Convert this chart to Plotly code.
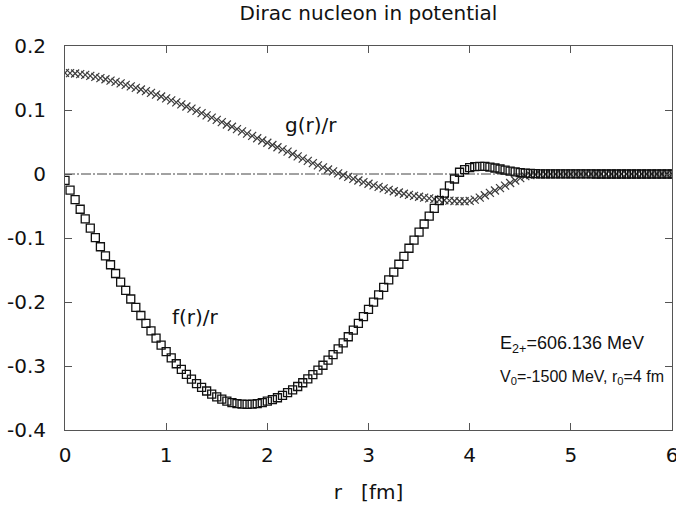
import plotly.graph_objects as go

# radius grid [fm]
R_FM = [
    0.00, 0.05, 0.10, 0.15, 0.20, 0.25, 0.30, 0.35, 0.40, 0.45,
    0.50, 0.55, 0.60, 0.65, 0.70, 0.75, 0.80, 0.85, 0.90, 0.95,
    1.00, 1.05, 1.10, 1.15, 1.20, 1.25, 1.30, 1.35, 1.40, 1.45,
    1.50, 1.55, 1.60, 1.65, 1.70, 1.75, 1.80, 1.85, 1.90, 1.95,
    2.00, 2.05, 2.10, 2.15, 2.20, 2.25, 2.30, 2.35, 2.40, 2.45,
    2.50, 2.55, 2.60, 2.65, 2.70, 2.75, 2.80, 2.85, 2.90, 2.95,
    3.00, 3.05, 3.10, 3.15, 3.20, 3.25, 3.30, 3.35, 3.40, 3.45,
    3.50, 3.55, 3.60, 3.65, 3.70, 3.75, 3.80, 3.85, 3.90, 3.95,
    4.00, 4.05, 4.10, 4.15, 4.20, 4.25, 4.30, 4.35, 4.40, 4.45,
    4.50, 4.55, 4.60, 4.65, 4.70, 4.75, 4.80, 4.85, 4.90, 4.95,
    5.00, 5.05, 5.10, 5.15, 5.20, 5.25, 5.30, 5.35, 5.40, 5.45,
    5.50, 5.55, 5.60, 5.65, 5.70, 5.75, 5.80, 5.85, 5.90, 5.95,
    6.00,
]

# upper component g(r)/r
G_OVER_R = [
    0.1580, 0.1576, 0.1570, 0.1560, 0.1548, 0.1533, 0.1518, 0.1499, 0.1480, 0.1460,
    0.1439, 0.1417, 0.1393, 0.1370, 0.1345, 0.1320, 0.1294, 0.1268, 0.1240, 0.1211,
    0.1181, 0.1151, 0.1119, 0.1087, 0.1054, 0.1021, 0.0987, 0.0952, 0.0917, 0.0881,
    0.0846, 0.0810, 0.0774, 0.0738, 0.0702, 0.0667, 0.0631, 0.0595, 0.0559, 0.0524,
    0.0488, 0.0453, 0.0418, 0.0384, 0.0350, 0.0313, 0.0276, 0.0240, 0.0205, 0.0170,
    0.0136, 0.0103, 0.0071, 0.0040, 0.0010, -0.0019, -0.0046, -0.0075, -0.0102, -0.0128,
    -0.0153, -0.0178, -0.0202, -0.0225, -0.0249, -0.0270, -0.0289, -0.0308, -0.0325, -0.0341,
    -0.0356, -0.0370, -0.0382, -0.0393, -0.0402, -0.0410, -0.0417, -0.0422, -0.0426, -0.0426,
    -0.0420, -0.0400, -0.0368, -0.0332, -0.0295, -0.0258, -0.0220, -0.0181, -0.0141, -0.0101,
    -0.0064, -0.0034, -0.0017, -0.0010, -0.0006, -0.0004, -0.0003, -0.0002, -0.0002, -0.0001,
    -0.0001, -0.0001, -0.0001, 0.0, 0.0, 0.0, 0.0, 0.0, 0.0, 0.0,
    0.0, 0.0, 0.0, 0.0, 0.0, 0.0, 0.0, 0.0, 0.0, 0.0,
    0.0,
]

# lower component f(r)/r
F_OVER_R = [
    -0.0100, -0.0251, -0.0401, -0.0551, -0.0700, -0.0847, -0.0993, -0.1137, -0.1278, -0.1418,
    -0.1555, -0.1688, -0.1818, -0.1953, -0.2084, -0.2211, -0.2334, -0.2452, -0.2563, -0.2673,
    -0.2776, -0.2873, -0.2965, -0.3052, -0.3132, -0.3206, -0.3274, -0.3335, -0.3391, -0.3440,
    -0.3483, -0.3519, -0.3548, -0.3571, -0.3588, -0.3597, -0.3601, -0.3597, -0.3588, -0.3573,
    -0.3550, -0.3525, -0.3496, -0.3460, -0.3417, -0.3373, -0.3320, -0.3262, -0.3200, -0.3134,
    -0.3064, -0.2988, -0.2908, -0.2823, -0.2733, -0.2640, -0.2543, -0.2441, -0.2335, -0.2227,
    -0.2116, -0.2003, -0.1889, -0.1772, -0.1653, -0.1532, -0.1410, -0.1286, -0.1160, -0.1033,
    -0.0907, -0.0781, -0.0657, -0.0536, -0.0415, -0.0299, -0.0186, -0.0078, 0.0027, 0.0068,
    0.0100, 0.0115, 0.0120, 0.0118, 0.0108, 0.0094, 0.0078, 0.0062, 0.0046, 0.0032,
    0.0021, 0.0013, 0.0008, 0.0005, 0.0003, 0.0002, 0.0001, 0.0001, 0.0001, 0.0001,
    0.0001, 0.0001, 0.0001, 0.0001, 0.0001, 0.0, 0.0, 0.0, 0.0, 0.0,
    0.0, 0.0, 0.0, 0.0, 0.0, 0.0, 0.0, 0.0, 0.0, 0.0,
    0.0,
]

X_TICKS = [0, 1, 2, 3, 4, 5, 6]
X_TICK_TEXT = ["0", "1", "2", "3", "4", "5", "6"]
Y_TICKS = [0.2, 0.1, 0.0, -0.1, -0.2, -0.3, -0.4]
Y_TICK_TEXT = ["0.2", "0.1", "0", "-0.1", "-0.2", "-0.3", "-0.4"]

TITLE = "Dirac nucleon in potential"
X_TITLE = "r\u00a0\u00a0\u00a0[fm]"
LABEL_G = "g(r)/r"
LABEL_F = "f(r)/r"
LABEL_E = "E<sub>2+</sub>=606.136 MeV"
LABEL_V = "V<sub>0</sub>=-1500 MeV, r<sub>0</sub>=4 fm"

FONT = "DejaVu Sans, Liberation Sans, Arial, sans-serif"
FONT_NARROW = "Liberation Sans, Arial, sans-serif"
W, H = 676, 508
ML, MR, MT, MB = 65, 4, 46, 78

fig = go.Figure()
fig.add_trace(go.Scatter(
    x=R_FM, y=G_OVER_R, mode="markers", name=LABEL_G,
    marker=dict(symbol="x-thin", size=8, line=dict(width=1.2, color="#3c3c3c")),
))
fig.add_trace(go.Scatter(
    x=R_FM, y=F_OVER_R, mode="markers", name=LABEL_F,
    marker=dict(symbol="square-open", size=8, color="#111111", line=dict(width=1.3)),
))

axis_common = dict(
    showline=True, linecolor="#555555", linewidth=1, mirror="ticks",
    ticks="inside", ticklen=7, tickcolor="#555555", tickwidth=1,
    showgrid=False, zeroline=False, automargin=False,
    tickfont=dict(family=FONT, size=20, color="#111111"),
)

fig.update_xaxes(range=[0, 6], tickvals=X_TICKS, ticktext=X_TICK_TEXT,
                 ticklabelstandoff=7, ticklabeloverflow="allow",
                 title=dict(text=X_TITLE, font=dict(family=FONT, size=20, color="#111111"), standoff=18),
                 **axis_common)
fig.update_yaxes(range=[-0.4, 0.2], tickvals=Y_TICKS, ticktext=Y_TICK_TEXT,
                 ticklabelstandoff=14, ticklabeloverflow="allow", **axis_common)

fig.add_shape(type="line", xref="x domain", x0=0, x1=1, yref="y", y0=0, y1=0,
              line=dict(color="#444444", width=1, dash="10px,2px,2px,2px"), layer="below")

ann_font = dict(family=FONT, size=20, color="#111111")
fig.add_annotation(x=2.43, y=0.076, xref="x", yref="y", text=LABEL_G, showarrow=False, font=ann_font)
fig.add_annotation(x=1.29, y=-0.223, xref="x", yref="y", text=LABEL_F, showarrow=False, font=ann_font)
fig.add_annotation(x=4.28, y=-0.266, xref="x", yref="y", text=LABEL_E, showarrow=False,
                   font=dict(family=FONT_NARROW, size=18, color="#111111"), xanchor="left")
fig.add_annotation(x=4.28, y=-0.318, xref="x", yref="y", text=LABEL_V, showarrow=False,
                   font=dict(family=FONT_NARROW, size=16, color="#111111"), xanchor="left")

fig.update_layout(
    width=W, height=H,
    margin=dict(l=ML, r=MR, t=MT, b=MB),
    paper_bgcolor="white", plot_bgcolor="white",
    showlegend=False,
    title=dict(text=TITLE, x=(ML + (W - MR - ML) / 2) / W, xanchor="center",
               y=1 - 13 / H, yanchor="middle", yref="container",
               font=dict(family=FONT, size=20, color="#111111")),
)

# remove the browser's default 8px body margin so the figure sits at the window origin
fig.write_html("out.html", config={"displayModeBar": False},
               post_script="document.body.style.margin='0';")
